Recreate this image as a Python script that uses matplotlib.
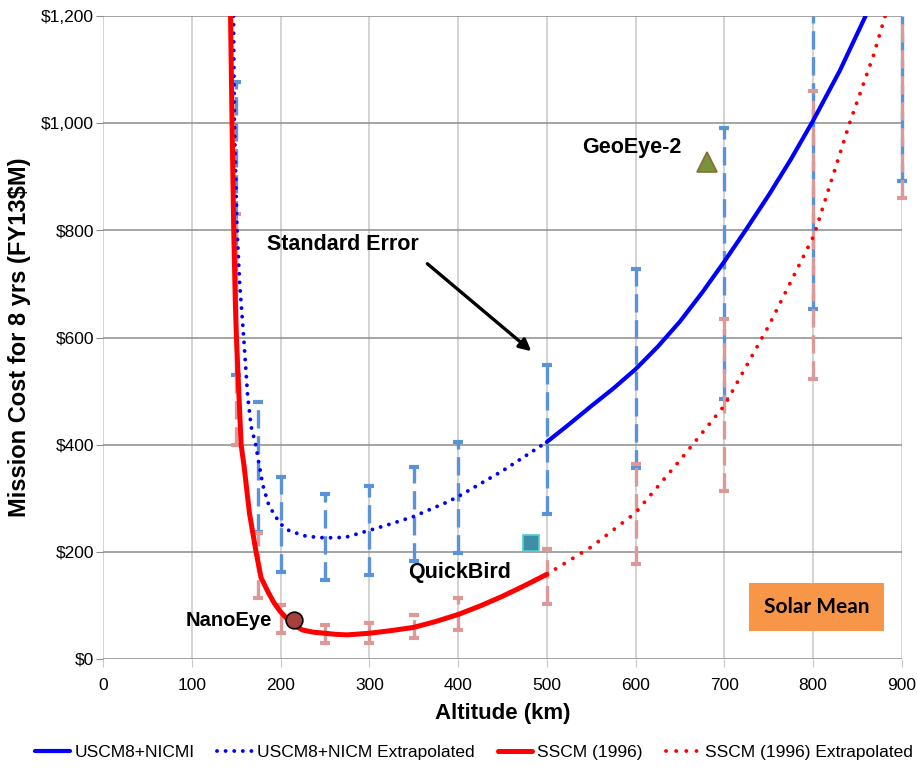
import matplotlib
matplotlib.use('Agg')
import matplotlib.pyplot as plt
from matplotlib.patches import Rectangle

# --- data ---
bar_alt = [150, 175, 200, 250, 300, 350, 400, 500, 600, 700, 800, 900]
usc_lo = [530, 237, 163, 147, 157, 182, 198, 270, 356, 486, 654, 893]
usc_hi = [1077, 480, 340, 307, 323, 359, 405, 549, 727, 991, 1200, 1200]  # 1200 = runs off the top
sscm_lo = [400, 114, 48, 30, 30, 39, 55, 102, 178, 314, 522, 860]
sscm_hi = [830, 235, 101, 63, 67, 82, 114, 205, 364, 635, 1061, 1200]

# USCM8+NICM: dotted (extrapolated) below 500 km, solid above
usc_ext_alt = [147, 148, 151, 154, 158.5, 163, 167, 172, 175, 180, 186, 192, 200, 210,
               229, 250, 273, 300, 326, 350, 388, 400, 450, 500]
usc_ext_cost = [1200, 1000, 800, 700, 600, 490, 433, 400, 371, 325, 291, 272, 252, 239,
                229, 226, 227, 240, 253, 266, 293, 303, 351, 405]
usc_alt = [500, 525, 550, 575, 600, 625, 650, 675, 700, 725, 750, 775, 800, 830, 859]
usc_cost = [405, 438, 472, 505, 541, 583, 630, 684, 742, 803, 866, 933, 1005, 1098, 1200]

# SSCM (1996): solid below 500 km, dotted above
sscm_alt = [143.7, 145.4, 147.3, 149, 150.3, 152.9, 155.6, 159, 165, 172.4, 178, 186.6,
            193, 200, 208, 215, 225, 237, 250, 262, 275, 300, 325, 350, 375, 400,
            425, 450, 475, 500]
sscm_cost = [1200, 1000, 800, 671, 600, 502, 400, 359, 272, 200, 152, 123,
             104, 88, 74, 63, 54, 50, 48, 46, 45, 48, 53, 59, 70, 83,
             99, 117, 137, 158]
sscm_ext_alt = [500, 550, 600, 650, 700, 750, 801, 841, 868, 881]
sscm_ext_cost = [158, 209, 273, 371, 473, 622, 791, 1000, 1127, 1200]

sat_names = ['NanoEye', 'QuickBird', 'GeoEye-2']
sat_alt = [215, 482, 680]
sat_cost = [73, 217, 927]

yticks = [0, 200, 400, 600, 800, 1000, 1200]
xticks = [0, 100, 200, 300, 400, 500, 600, 700, 800, 900]

plt.rcParams['font.family'] = ['Liberation Sans', 'DejaVu Sans']

fig = plt.figure(figsize=(9.17, 7.71), dpi=100)
ax = fig.add_axes([0.1123, 0.1453, 0.8713, 0.8339])


def error_bars(lo, hi, color, z):
    ax.vlines(bar_alt, lo, hi, colors=color, lw=2.4, linestyles=[(0, (5.5, 2.3))],
              zorder=z, clip_on=False)
    ax.plot(bar_alt, lo, ls='none', marker='_', ms=7, mew=3, color=color, zorder=z, clip_on=False)
    top = [(a, h) for a, h in zip(bar_alt, hi) if h < 1200]
    ax.plot([t[0] for t in top], [t[1] for t in top], ls='none', marker='_', ms=7, mew=3,
            color=color, zorder=z)


error_bars(usc_lo, usc_hi, '#5B93D8', 2)
error_bars(sscm_lo, sscm_hi, '#DB9A98', 3)

# model curves
l1, = ax.plot(usc_alt, usc_cost, color='#0000FF', lw=3.0, zorder=5,
              solid_capstyle='round', solid_joinstyle='round', label='USCM8+NICMI')
l2, = ax.plot(usc_ext_alt, usc_ext_cost, color='#0000FF', lw=2.8, zorder=5,
              ls=(0, (0.01, 2.2)), dash_capstyle='round', label='USCM8+NICM Extrapolated')
l3, = ax.plot(sscm_alt, sscm_cost, color='#FF0000', lw=3.6, zorder=6,
              solid_capstyle='round', solid_joinstyle='round', label='SSCM (1996)')
l4, = ax.plot(sscm_ext_alt, sscm_ext_cost, color='#FF0000', lw=2.8, zorder=6,
              ls=(0, (0.01, 2.6)), dash_capstyle='round', label='SSCM (1996) Extrapolated')

# satellites
ax.plot(sat_alt[0], sat_cost[0], marker='o', ms=12, mfc='#A5403D', mec='black', mew=1.2,
        ls='none', zorder=7)
ax.plot(sat_alt[1], sat_cost[1], marker='s', ms=11, mfc='#3D8FA6', mec='#4DD0D0', mew=1.2,
        ls='none', zorder=7)
ax.plot(sat_alt[2], sat_cost[2], marker='^', ms=14, mfc='#77933C', mec='#8C6D3A', mew=1.2,
        ls='none', zorder=7)

ax.text(sat_alt[0] - 25, sat_cost[0] - 2, sat_names[0], ha='right', va='center',
        fontsize=14.5, fontweight='bold', zorder=8)
ax.text(344, 162, sat_names[1], ha='left', va='center', fontsize=15.5, fontweight='bold', zorder=8)
ax.text(540, 955, sat_names[2], ha='left', va='center', fontsize=15.5, fontweight='bold', zorder=8)
ax.text(185, 773, 'Standard Error', ha='left', va='center', fontsize=15.5, fontweight='bold', zorder=8)
ax.annotate('', xy=(485, 571), xytext=(363, 741),
            arrowprops=dict(arrowstyle='-|>,head_length=0.7,head_width=0.35', color='black', lw=2.4),
            zorder=8)

ax.add_patch(Rectangle((728, 52), 151.5, 89.5, facecolor='#F79646', edgecolor='none', zorder=8))
ax.text(803.8, 97, 'Solar Mean', ha='center', va='center', fontsize=15, fontweight='bold',
        family=['Lato', 'DejaVu Sans'], zorder=9)

# axes styling
ax.set_xlim(0, 900)
ax.set_ylim(0, 1200)
ax.set_xticks(xticks)
ax.set_yticks(yticks)
ax.set_yticklabels(['${:,}'.format(v) for v in yticks])
for s in ax.spines.values():
    s.set_visible(False)
ax.grid(axis='y', color='#8C8C8C', lw=1.1, zorder=0)
ax.grid(axis='x', color='#C8C8C8', lw=1.1, zorder=0)
ax.set_axisbelow(True)
ax.tick_params(axis='y', length=5, color='#8C8C8C', labelsize=12.5, pad=1.5)
ax.tick_params(axis='x', length=6, color='#C8C8C8', labelsize=12.5, pad=8)

ax.set_xlabel('Altitude (km)', fontsize=16, fontweight='bold', labelpad=7)
ax.set_ylabel('Mission Cost for 8 yrs (FY13$M)', fontsize=17, fontweight='bold', labelpad=7)

fig.legend(handles=[l1, l2, l3, l4], loc='center', bbox_to_anchor=(0.517, 1 - 752 / 771),
           ncol=4, frameon=False, handlelength=2.0, handletextpad=0.3, columnspacing=1.3,
           prop={'size': 12.5})

fig.savefig('out.png', dpi=100)
